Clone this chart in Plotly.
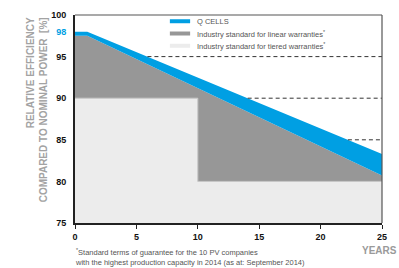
import numpy as np
import plotly.graph_objects as go

# Data
years_q = [0, 1, 25]
qcells = [98.0, 98.0, 83.3]
years_lin = [0, 1, 25]
linear = [97.5, 97.5, 80.7]
years_tier = [0, 10, 10, 25]
tiered = [90, 90, 80, 80]
levels = [95, 90, 85]
x_ticks = [0, 5, 10, 15, 20, 25]
y_ticks = [75, 80, 85, 90, 95, 98, 100]
legend_names = ["Q CELLS",
                "Industry standard for linear warranties<sup>*</sup>",
                "Industry standard for tiered warranties<sup>*</sup>"]

BLUE = "#009fe3"
GRAY = "#979797"
LIGHT = "#ececec"
TXT = "#555555"
FONT = "Liberation Sans"

fig = go.Figure()

# linear warranty area
fig.add_trace(go.Scatter(x=years_lin, y=linear, fill="tozeroy", fillcolor=GRAY,
                         mode="lines", line=dict(width=0, color=GRAY),
                         showlegend=False, hoverinfo="skip"))
# tiered warranty area
fig.add_trace(go.Scatter(x=years_tier, y=tiered, fill="tozeroy", fillcolor=LIGHT,
                         mode="lines", line=dict(width=1, color="#c8c8c8"),
                         showlegend=False, hoverinfo="skip"))
# Q CELLS band between Q line and linear line
band_x = list(years_q) + list(years_lin[::-1])
band_y = list(qcells) + list(linear[::-1])
fig.add_trace(go.Scatter(x=band_x, y=band_y, fill="toself", fillcolor=BLUE,
                         mode="lines", line=dict(width=0, color=BLUE),
                         showlegend=False, hoverinfo="skip"))

# dashed level lines starting where Q CELLS crosses the level
qx = np.array(years_q[1:], dtype=float)
qy = np.array(qcells[1:], dtype=float)
for lv in levels:
    xs = float(np.interp(lv, qy[::-1], qx[::-1]))
    fig.add_trace(go.Scatter(x=[xs, 25], y=[lv, lv], mode="lines",
                             line=dict(color="#333333", width=1, dash="4px,3px"),
                             showlegend=False, hoverinfo="skip"))

# frame (top and right, thin)
shapes = [
    dict(type="line", xref="paper", yref="paper", x0=0, x1=1, y0=1, y1=1,
         line=dict(color="#555", width=1.2)),
    dict(type="line", xref="paper", yref="paper", x0=1, x1=1, y0=0, y1=1,
         line=dict(color="#555", width=1.2)),
]

# manual legend (swatches + labels) in paper coordinates
leg_cols = [BLUE, GRAY, LIGHT]
leg_rows = [0.970, 0.911, 0.852]
annotations = []
for name, col, yy in zip(legend_names, leg_cols, leg_rows):
    shapes.append(dict(type="line", xref="paper", yref="paper",
                       x0=0.309, x1=0.375, y0=yy, y1=yy,
                       line=dict(color=col, width=4)))
    annotations.append(dict(text=name, xref="paper", yref="paper", x=0.39, y=yy,
                            xanchor="left", yanchor="middle", showarrow=False,
                            font=dict(size=7.5, color=TXT, family=FONT)))

ytext = [f"<span style='color:{BLUE}'>{v}</span>" if v == 98 else str(v) for v in y_ticks]

annotations += [
    dict(text="<b>RELATIVE EFFICIENCY<br>COMPARED TO NOMINAL POWER  [%]</b>",
         textangle=-90, xref="paper", yref="paper", x=-0.125, y=0.999,
         xanchor="center", yanchor="top", align="right", showarrow=False,
         font=dict(size=10, color="#a3a3a3", family=FONT)),
    dict(text="<b>YEARS</b>", xref="paper", yref="paper", x=1.055, y=-0.097,
         xanchor="right", yanchor="top", showarrow=False,
         font=dict(size=10, color="#9a9a9a", family=FONT)),
    dict(text="<sup>*</sup>Standard terms of guarantee for the 10 PV companies<br>"
              "with the highest production capacity in 2014 (as at: September 2014)",
         xref="paper", yref="paper", x=-0.007, y=-0.108, xanchor="left",
         yanchor="top", align="left", showarrow=False,
         font=dict(size=7.5, color=TXT, family=FONT)),
]

fig.update_layout(
    width=399, height=268,
    margin=dict(l=75, r=17, t=10, b=45),
    paper_bgcolor="white", plot_bgcolor="white",
    font=dict(family=FONT, color=TXT),
    showlegend=False,
    xaxis=dict(range=[0, 25], tickvals=x_ticks, ticks="outside", ticklen=4,
               tickwidth=1.2, ticklabelstandoff=0,
               tickcolor="#222", showgrid=False, zeroline=False,
               showline=True, linecolor="#222", linewidth=2, mirror=False,
               tickfont=dict(family=FONT, size=9, color="#111", weight="bold")),
    yaxis=dict(range=[75, 100], tickvals=y_ticks, ticktext=ytext, ticks="",
               ticklabelstandoff=5,
               showgrid=False, zeroline=False, showline=True, linecolor="#222",
               linewidth=2, mirror=False,
               tickfont=dict(family=FONT, size=9, color="#111", weight="bold")),
    shapes=shapes,
    annotations=annotations,
)

fig.write_html("out.html", config={"displayModeBar": False},
               post_script="document.body.style.margin='0px';")
